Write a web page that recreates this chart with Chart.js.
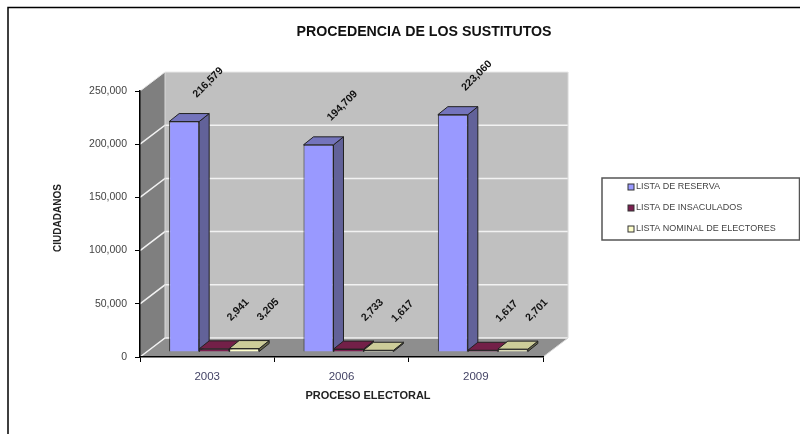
<!DOCTYPE html>
<html><head><meta charset="utf-8">
<style>html,body{margin:0;padding:0;background:#fff}#w{width:800px;height:434px}</style>
<script src="https://cdn.jsdelivr.net/npm/chart.js@4"></script>
</head><body><div id="w"><canvas id="c" width="800" height="434"></canvas></div>
<script>
const categories = ['2003','2006','2009'];
const listaReserva = [216579,194709,223060];
const listaInsaculados = [2941,2733,1617];
const listaNominal = [3205,1617,2701];
const seriesNames = ['LISTA DE RESERVA','LISTA DE INSACULADOS','LISTA NOMINAL DE ELECTORES'];
const chartTitle = 'PROCEDENCIA DE LOS SUSTITUTOS';
const xTitle = 'PROCESO ELECTORAL';
const yTitle = 'CIUDADANOS';
const FONT = '"Liberation Sans", Arial, sans-serif';
const fronts = ['#9999FF','#7B1F50','#FFFFCC'];
const tops = ['#7474BC','#732048','#CCCC99'];
const sides = ['#626299','#5A1238','#66664A'];
const D = {wallX:25, wallY:19, barX:7, barY:5, depthX:10, depthY:8};

function poly(ctx, pts, fill, stroke){
  ctx.beginPath(); pts.forEach((p,i)=> i?ctx.lineTo(p[0],p[1]):ctx.moveTo(p[0],p[1])); ctx.closePath();
  ctx.fillStyle=fill; ctx.fill();
  if(stroke){ctx.strokeStyle=stroke;ctx.lineWidth=1;ctx.stroke();}
}
const scene = {
  id:'scene',
  beforeDraw(chart){
    const {ctx,chartArea:a,scales:{y}} = chart;
    ctx.save();
    ctx.strokeStyle='#000'; ctx.lineWidth=1.5;
    ctx.beginPath(); ctx.moveTo(8,434); ctx.lineTo(8,7.5); ctx.lineTo(800,7.5); ctx.stroke();
    const dx=D.wallX, dy=D.wallY;
    poly(ctx,[[a.left+dx,a.top-dy],[a.right+dx,a.top-dy],[a.right+dx,a.bottom-dy],[a.left+dx,a.bottom-dy]],'#C0C0C0');
    poly(ctx,[[a.left,a.top],[a.left+dx,a.top-dy],[a.left+dx,a.bottom-dy],[a.left,a.bottom]],'#7F7F7F');
    poly(ctx,[[a.left,a.bottom],[a.left+dx,a.bottom-dy],[a.right+dx,a.bottom-dy],[a.right,a.bottom]],'#8E8E8E');
    ctx.strokeStyle='#F2F2F2'; ctx.lineWidth=1.5;
    y.ticks.forEach(t=>{
      const py=y.getPixelForValue(t.value);
      if(t.value===250000) return;
      ctx.beginPath(); ctx.moveTo(a.left,py); ctx.lineTo(a.left+dx,py-dy);
      ctx.lineTo(a.right+dx,py-dy); ctx.stroke();
    });
    ctx.strokeStyle='#D8D8D8'; ctx.lineWidth=1;
    ctx.beginPath(); ctx.moveTo(a.left+dx,a.top-dy); ctx.lineTo(a.left+dx,a.bottom-dy);
    ctx.moveTo(a.right+dx,a.top-dy); ctx.lineTo(a.right+dx,a.bottom-dy); ctx.lineTo(a.right,a.bottom); ctx.stroke();
    ctx.strokeStyle='#E8E8E8';
    ctx.beginPath(); ctx.moveTo(a.left,a.top); ctx.lineTo(a.left+dx,a.top-dy); ctx.lineTo(a.right+dx,a.top-dy); ctx.stroke();
    ctx.restore();
  },
  beforeDatasetsDraw(chart){
    const ctx=chart.ctx;
    ctx.save();
    chart.data.datasets.forEach((ds,i)=>{
      chart.getDatasetMeta(i).data.forEach(b=>{
        const l=b.x-b.width/2+D.barX, r=b.x+b.width/2+D.barX, t=b.y-D.barY, bt=b.base-D.barY, ox=D.depthX, oy=D.depthY;
        poly(ctx,[[r,t],[r+ox,t-oy],[r+ox,bt-oy],[r,bt]],sides[i],'#222');
        poly(ctx,[[l,t],[l+ox,t-oy],[r+ox,t-oy],[r,t]],tops[i],'#222');
      });
    });
    ctx.restore();
    ctx.save(); ctx.translate(D.barX,-D.barY);
  },
  afterDatasetsDraw(chart){
    const ctx=chart.ctx;
    ctx.restore();
    ctx.save();
    ctx.fillStyle='#111'; ctx.font='bold 10.5px '+FONT; ctx.textAlign='center'; ctx.textBaseline='middle';
    chart.data.datasets.forEach((ds,i)=>{
      chart.getDatasetMeta(i).data.forEach((b,j)=>{
        ctx.save();
        ctx.translate(b.x+D.barX+24, b.y-D.barY-39);
        ctx.rotate(-Math.PI/4);
        ctx.fillText(ds.data[j].toLocaleString('en-US'),0,0);
        ctx.restore();
      });
    });
    ctx.restore();
  },
  afterDraw(chart){
    const ctx=chart.ctx;
    ctx.save();
    ctx.textBaseline='middle'; ctx.textAlign='center'; ctx.fillStyle='#111';
    ctx.font='bold 14.2px '+FONT; ctx.fillText(chartTitle,424,32);
    ctx.font='bold 11px '+FONT; ctx.fillStyle='#222'; ctx.fillText(xTitle,368,396);
    ctx.save(); ctx.translate(58,218); ctx.rotate(-Math.PI/2); ctx.font='bold 10px '+FONT; ctx.fillText(yTitle,0,0); ctx.restore();
    ctx.strokeStyle='#555'; ctx.lineWidth=1.5; ctx.fillStyle='#fff';
    ctx.fillRect(602,178,198,62); ctx.strokeRect(602,178,197.5,62);
    ctx.font='9px '+FONT; ctx.textAlign='left';
    chart.data.datasets.forEach((ds,i)=>{
      const cy=187+i*21;
      ctx.fillStyle=fronts[i]; ctx.strokeStyle='#333'; ctx.lineWidth=1;
      ctx.fillRect(628,cy-3,6,6); ctx.strokeRect(628,cy-3,6,6);
      ctx.fillStyle='#444'; ctx.fillText(ds.label,636,cy);
    });
    ctx.restore();
  }
};
const series=[listaReserva,listaInsaculados,listaNominal];
new Chart(document.getElementById('c'),{
  type:'bar',
  data:{labels:categories,datasets:series.map((d,i)=>({label:seriesNames[i],data:d,backgroundColor:fronts[i],borderColor:'#222',borderWidth:1,categoryPercentage:0.67,barPercentage:1}))},
  plugins:[scene],
  options:{
    responsive:false,animation:false,
    layout:{padding:{left:0,right:257,top:91,bottom:0}},
    plugins:{legend:{display:false},title:{display:false},tooltip:{enabled:false}},
    scales:{
      x:{border:{color:'#000',width:1.5},grid:{drawOnChartArea:false,drawTicks:true,tickLength:5,color:'#000'},
         ticks:{color:'#444466',font:{family:FONT,size:11.5},padding:8,maxRotation:0},
         afterFit(s){s.height=77;}},
      y:{min:0,max:250000,border:{color:'#000',width:1.5},grid:{drawOnChartArea:false,drawTicks:true,tickLength:5,color:'#000'},
         ticks:{stepSize:50000,color:'#444',font:{family:FONT,size:10.5},padding:8,callback:v=>v.toLocaleString('en-US')},
         afterFit(s){s.width=140;}}
    }
  }
});
</script></body></html>
